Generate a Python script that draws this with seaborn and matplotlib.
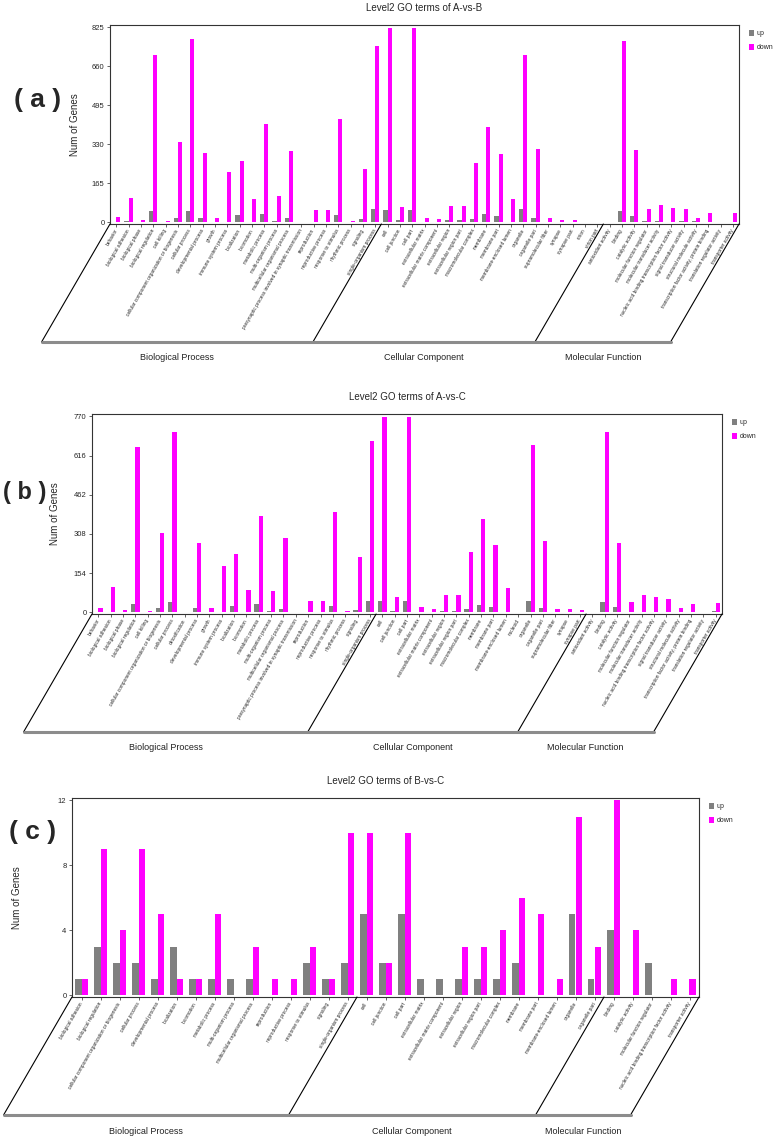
import numpy as np
import pandas as pd
import matplotlib
matplotlib.use("Agg")
import matplotlib.pyplot as plt
from matplotlib.lines import Line2D
import seaborn as sns

sns.set_theme(style="white")
plt.rcParams['font.family'] = ['Liberation Sans', 'DejaVu Sans']

GROUP_NAMES = ["Biological Process", "Cellular Component", "Molecular Function"]

BP_A = ["behavior", "biological adhesion", "biological phase", "biological regulation", "cell killing",
        "cellular component organization or biogenesis", "cellular process", "developmental process",
        "growth", "immune system process", "localization", "locomotion", "metabolic process",
        "multi-organism process", "multicellular organismal process",
        "presynaptic process involved in synaptic transmission", "reproduction", "reproductive process",
        "response to stimulus", "rhythmic process", "signaling", "single-organism process"]
CC_A = ["cell", "cell junction", "cell part", "extracellular matrix", "extracellular matrix component",
        "extracellular region", "extracellular region part", "macromolecular complex", "membrane",
        "membrane part", "membrane-enclosed lumen", "organelle", "organelle part", "supramolecular fiber",
        "synapse", "synapse part", "virion", "virion part"]
MF_A = ["antioxidant activity", "binding", "catalytic activity", "molecular function regulator",
        "molecular transducer activity", "nucleic acid binding transcription factor activity",
        "signal transducer activity", "structural molecule activity",
        "transcription factor activity, protein binding", "translation regulator activity",
        "transporter activity"]
a_terms = BP_A + CC_A + MF_A
a_groups = [len(BP_A), len(CC_A), len(MF_A)]
a_up = [0, 4, 0, 48, 0, 20, 48, 18, 0, 2, 31, 2, 34, 5, 18, 0, 0, 1, 32, 0, 14, 56,
        52, 10, 52, 2, 0, 10, 10, 14, 35, 27, 2, 55, 17, 1, 0, 0, 0, 0,
        2, 50, 27, 6, 6, 2, 5, 4, 2, 0, 3]
a_down = [22, 103, 10, 706, 6, 339, 775, 292, 18, 214, 260, 101, 416, 111, 302, 2, 52, 52, 436, 6, 225, 748,
          824, 65, 824, 17, 14, 68, 68, 250, 404, 291, 98, 710, 309, 17, 11, 10, 3, 3,
          2, 768, 305, 55, 72, 62, 58, 17, 39, 2, 38]
a_yticks = [0, 165, 330, 495, 660, 825]

BP_B = ["behavior", "biological adhesion", "biological phase", "biological regulation", "cell killing",
        "cellular component organization or biogenesis", "cellular process", "detoxification",
        "developmental process", "growth", "immune system process", "localization", "locomotion",
        "metabolic process", "multi-organism process", "multicellular organismal process",
        "presynaptic process involved in synaptic transmission", "reproduction", "reproductive process",
        "response to stimulus", "rhythmic process", "signaling", "single-organism process"]
CC_B = ["cell", "cell junction", "cell part", "extracellular matrix", "extracellular matrix component",
        "extracellular region", "extracellular region part", "macromolecular complex", "membrane",
        "membrane part", "membrane-enclosed lumen", "nucleoid", "organelle", "organelle part",
        "supramolecular fiber", "synapse", "synapse part"]
MF_B = MF_A
b_terms = BP_B + CC_B + MF_B
b_groups = [len(BP_B), len(CC_B), len(MF_B)]
b_up = [0, 2, 0, 35, 0, 17, 42, 1, 17, 1, 2, 26, 2, 34, 7, 14, 0, 1, 2, 25, 0, 11, 46,
        44, 5, 44, 1, 1, 5, 5, 13, 29, 20, 2, 1, 44, 17, 1, 0, 0,
        2, 42, 23, 2, 2, 2, 2, 3, 2, 0, 4]
b_down = [18, 100, 10, 651, 5, 310, 709, 0, 271, 17, 181, 229, 87, 378, 85, 292, 1, 46, 46, 393, 5, 218, 672,
          767, 59, 767, 21, 14, 68, 68, 237, 365, 263, 96, 0, 659, 282, 14, 12, 8,
          2, 707, 274, 42, 68, 62, 52, 17, 35, 1, 38]
b_yticks = [0, 154, 308, 462, 616, 770]

BP_C = ["biological adhesion", "biological regulation", "cellular component organization or biogenesis",
        "cellular process", "developmental process", "localization", "locomotion", "metabolic process",
        "multi-organism process", "multicellular organismal process", "reproduction", "reproductive process",
        "response to stimulus", "signaling", "single-organism process"]
CC_C = ["cell", "cell junction", "cell part", "extracellular matrix", "extracellular matrix component",
        "extracellular region", "extracellular region part", "macromolecular complex", "membrane",
        "membrane part", "membrane-enclosed lumen", "organelle", "organelle part"]
MF_C = ["binding", "catalytic activity", "molecular function regulator",
        "nucleic acid binding transcription factor activity", "transporter activity"]
c_terms = BP_C + CC_C + MF_C
c_groups = [len(BP_C), len(CC_C), len(MF_C)]
c_up = [1, 3, 2, 2, 1, 3, 1, 1, 1, 1, 0, 0, 2, 1, 2,
        5, 2, 5, 1, 1, 1, 1, 1, 2, 0, 0, 5, 1,
        4, 0, 2, 0, 0]
c_down = [1, 9, 4, 9, 5, 1, 1, 5, 0, 3, 1, 1, 3, 1, 10,
          10, 2, 10, 0, 0, 3, 3, 4, 6, 5, 1, 11, 3,
          12, 4, 0, 1, 1]
c_yticks = [0, 4, 8, 12]

W, H = 773, 1137
PALETTE = {"up": "#808080", "down": "#ff00ff"}


def bracket(fig, ax, groups, drop=118, slant=0.58):
    # slanted separators under the x labels plus the grey base line
    inv = fig.transFigure.inverted()
    bounds = np.concatenate([[0], np.cumsum(groups)]) - 0.5
    y0 = ax.transAxes.transform((0, 0))[1]
    y1 = y0 - drop
    xs_top = [ax.transData.transform((b, 0))[0] for b in bounds]
    xs_bot = [x - drop * slant for x in xs_top]
    for xt, xb in zip(xs_top, xs_bot):
        p = inv.transform([(xt, y0), (xb, y1)])
        fig.add_artist(Line2D(p[:, 0], p[:, 1], color="black", lw=0.8))
    p = inv.transform([(xs_bot[0], y1), (xs_bot[-1], y1)])
    fig.add_artist(Line2D(p[:, 0], p[:, 1], color="#8c8c8c", lw=2.2))
    for i, name in enumerate(GROUP_NAMES):
        xm = (xs_bot[i] + xs_bot[i + 1]) / 2
        p = inv.transform((xm, y1 - 16))
        fig.text(p[0], p[1], name, ha="center", va="center", fontsize=6.5, color="#222222")


def draw_panel(fig, box, terms, up, down, groups, yticks, title, letter, letter_xy, ylab_x,
               letter_size=19):
    left, top, right, bottom = box
    ax = fig.add_axes([left / W, 1 - bottom / H, (right - left) / W, (bottom - top) / H])
    n = len(terms)
    df = pd.DataFrame({
        "term": terms * 2,
        "count": up + down,
        "dir": ["up"] * n + ["down"] * n,
    })
    sns.barplot(data=df, x="term", y="count", hue="dir", order=terms, hue_order=["up", "down"],
                palette=PALETTE, saturation=1, width=0.7, linewidth=0, ax=ax)
    top_val = yticks[-1]
    ax.set_ylim(-top_val * 0.008, top_val * 1.012)
    ax.set_xlim(-0.5, n - 0.5)
    ax.set_yticks(yticks)
    ax.set_yticklabels([str(t) for t in yticks], fontsize=5.5)
    ax.set_xticks(range(n))
    ax.set_xticklabels(terms, rotation=60, ha="right", va="center", rotation_mode="anchor",
                       fontsize=3.4)
    ax.tick_params(axis="x", length=2, width=0.5, pad=2, bottom=True)
    ax.tick_params(axis="y", length=2, width=0.5, pad=2, left=True)
    ax.set_xlabel("")
    ax.set_ylabel("Num of Genes", fontsize=7)
    ax.yaxis.set_label_coords((ylab_x - left) / (right - left), 0.5)
    ax.set_title(title, fontsize=7, pad=10)
    for sp in ax.spines.values():
        sp.set_color("#333333")
        sp.set_linewidth(0.8)

    handles, labels = ax.get_legend_handles_labels()
    ax.legend(handles, labels, loc="upper left", bbox_to_anchor=(1.012, 0.99), frameon=False,
              fontsize=5, handlelength=0.7, handleheight=0.9, handletextpad=0.4,
              labelspacing=1.0, borderaxespad=0)

    fig.text(letter_xy[0] / W, 1 - letter_xy[1] / H, letter, fontsize=letter_size,
             fontweight="bold", ha="center", va="center")
    bracket(fig, ax, groups)
    return ax


fig = plt.figure(figsize=(W / 100, H / 100), dpi=100)
draw_panel(fig, (110, 25, 739, 224), a_terms, a_up, a_down, a_groups, a_yticks,
           "Level2 GO terms of A-vs-B", "( a )", (38, 100), 80)
draw_panel(fig, (92, 414, 722, 614), b_terms, b_up, b_down, b_groups, b_yticks,
           "Level2 GO terms of A-vs-C", "( b )", (25, 492), 60, letter_size=17)
draw_panel(fig, (72, 798, 699, 997), c_terms, c_up, c_down, c_groups, c_yticks,
           "Level2 GO terms of B-vs-C", "( c )", (33, 832), 22)

fig.savefig("out.png", dpi=100)
